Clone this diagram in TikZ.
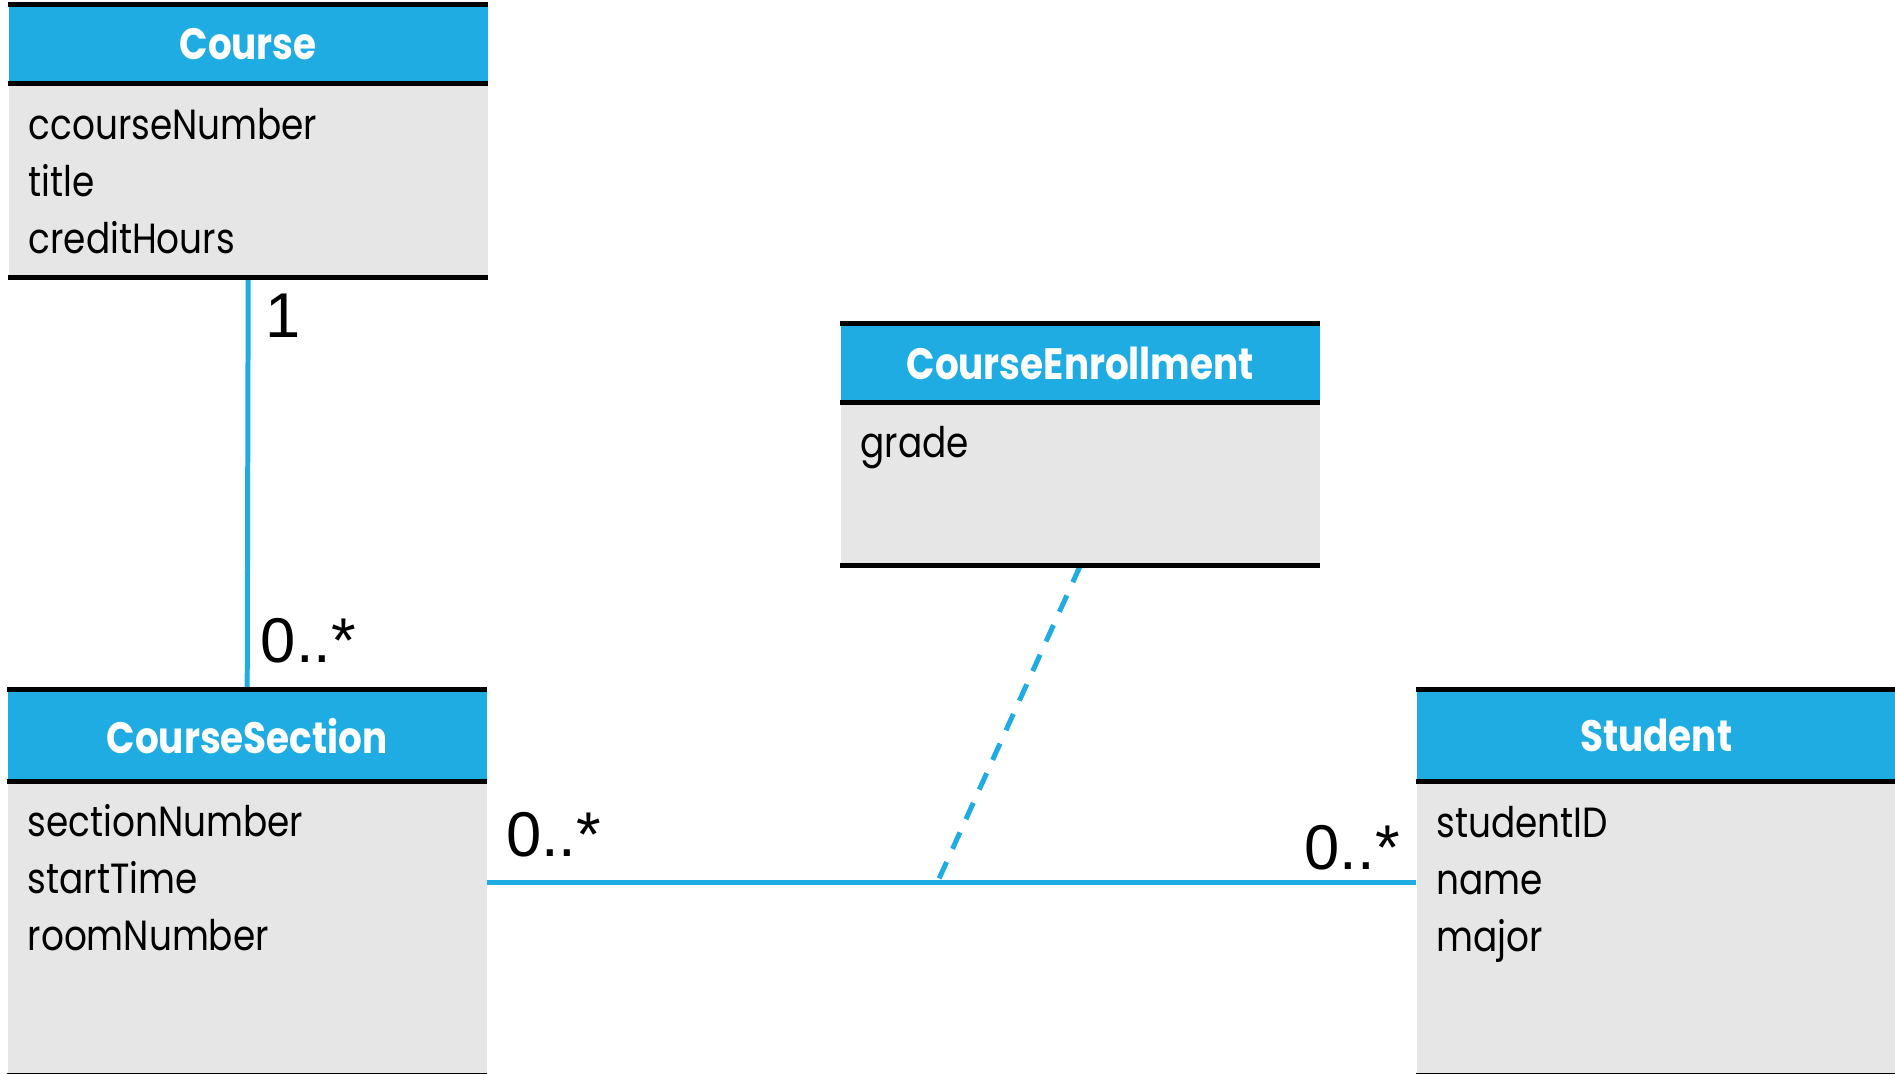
\documentclass[tikz,border=0pt]{standalone}
\usepackage{fontspec}
\usepackage{tikz}
\usetikzlibrary{positioning,calc}
\newfontfamily\umlfont[FakeStretch=0.85]{Poppins}
\newfontfamily\multfont{Liberation Sans}
\definecolor{umlblue}{RGB}{30,172,226}
\definecolor{umlgray}{RGB}{230,230,230}
\tikzset{
  classhead/.style={rectangle, fill=umlblue, text=white, inner sep=0pt, minimum width=4.79cm, anchor=north west, font=\umlfont\bfseries\fontsize{12.5}{15}\selectfont},
  classbody/.style={rectangle, fill=umlgray, inner sep=0pt, minimum width=4.79cm, anchor=north},
  attrib/.style={anchor=base west, inner sep=0pt, font=\umlfont\fontsize{12}{14}\selectfont},
  classrule/.style={line width=1.42pt, black},
  assoc/.style={line width=1.42pt, umlblue},
  mult/.style={anchor=base west, inner sep=0pt, font=\multfont\fontsize{18}{20}\selectfont},
}

\begin{document}
\begin{tikzpicture}
    \useasboundingbox (0,0) rectangle (18.95,10.74);

    \node[classhead, minimum height=0.775cm] (course) at (0.08,10.69) {Course};
    \node[classbody, minimum height=1.92cm] (course-body) at (course.south) {};
    \foreach \a [count=\i] in {ccourseNumber,title,creditHours}
      \node[attrib] (course-a\i) at ($(course-body.north west)+(0.2,-0.555-0.57*\i+0.57)$) {\a};

    \node[classhead, minimum height=0.90cm] (section) at (0.07,3.84) {CourseSection};
    \node[classbody, minimum height=2.93cm] (section-body) at (section.south) {};
    \foreach \a [count=\i] in {sectionNumber,startTime,roomNumber}
      \node[attrib] (section-a\i) at ($(section-body.north west)+(0.2,-0.55-0.57*\i+0.57)$) {\a};

    \node[classhead, minimum height=0.77cm] (enroll) at (8.40,7.50) {CourseEnrollment};
    \node[classbody, minimum height=1.62cm] (enroll-body) at (enroll.south) {};
    \node[attrib] (enroll-a1) at ($(enroll-body.north west)+(0.2,-0.55)$) {grade};

    \node[classhead, minimum height=0.90cm] (student) at (14.16,3.84) {Student};
    \node[classbody, minimum height=2.93cm] (student-body) at (student.south) {};
    \foreach \a [count=\i] in {studentID,name,major}
      \node[attrib] (student-a\i) at ($(student-body.north west)+(0.2,-0.56-0.57*\i+0.57)$) {\a};

    % associations
    \path (section-body.north east) ++(0,-1.01) coordinate (assoc-l);
    \path (student-body.north west) ++(0,-1.01) coordinate (assoc-r);
    \path (assoc-l) ++(4.50,0) coordinate (assoc-m);
    \draw[assoc] (course-body.south) -- (section.north);
    \draw[assoc] (assoc-l) -- (assoc-r);
    \draw[assoc, dash pattern=on 0.18cm off 0.145cm] (enroll-body.south) -- (assoc-m);

    % black rules of the class boxes
    \foreach \c in {course,section,enroll,student}
      \draw[classrule] (\c.north west) -- (\c.north east)
        (\c.south west) -- (\c.south east)
        (\c-body.south west) -- (\c-body.south east);

    \node[mult] (m-course) at ($(course-body.south)+(0.17,-0.605)$) {1};
    \node[mult] (m-section) at ($(section.north)+(0.13,0.27)$) {0..*};
    \node[mult] (m-assoc-l) at ($(assoc-l)+(0.18,0.26)$) {0..*};
    \node[mult] (m-assoc-r) at ($(assoc-r)+(-1.12,0.13)$) {0..*};
  \end{tikzpicture}
\end{document}
